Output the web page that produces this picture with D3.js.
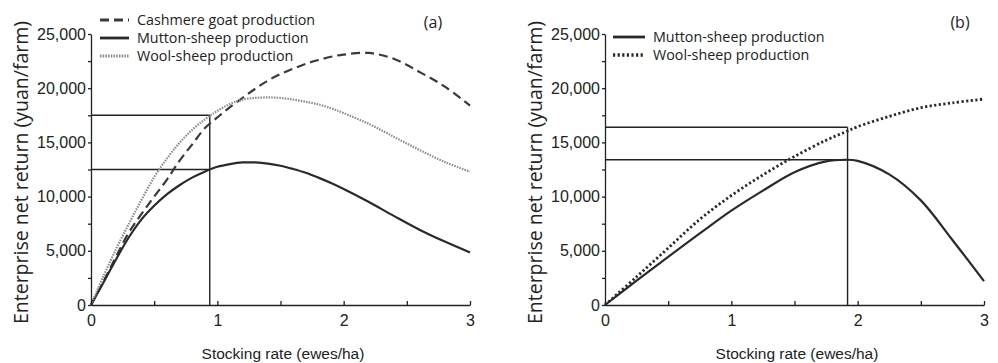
<!DOCTYPE html>
<html>
<head>
<meta charset="utf-8">
<script src="https://cdn.jsdelivr.net/npm/d3@7"></script>
<style>
  body { margin: 0; background: #fff; }
  svg { display: block; }
  .axis text { font-family: "Liberation Sans", Arial, sans-serif; font-size: 16px; fill: #222; }
  .axis path, .axis line { stroke: #222; stroke-width: 1.3; }
  .ytitle { font-family: "Open Sans", sans-serif; font-size: 19.5px; fill: #222; }
  .xtitle { font-family: "Liberation Sans", Arial, sans-serif; font-size: 15.5px; fill: #222; }
  .legend text, .panelLabel { font-family: "Open Sans", sans-serif; fill: #222; }
</style>
</head>
<body>
<div id="chart"></div>
<script>

/*------Data (stocking rate in ewes/ha, return in yuan/farm)------*/

var xA = [0, 0.1, 0.2, 0.3, 0.4, 0.5, 0.6, 0.7, 0.8, 0.9, 1.0, 1.1, 1.2, 1.3, 1.4, 1.5, 1.6, 1.7, 1.8, 1.9, 2.0, 2.2, 2.4, 2.6, 2.8, 3.0];
var cashmereA = [0, 2200, 4500, 6700, 8400, 10000, 11550, 13300, 14800, 16300, 17300, 18250, 19100, 19950, 20700, 21300, 21800, 22250, 22600, 22900, 23100, 23250, 22700, 21500, 20150, 18400];
var muttonA   = [0, 2100, 4250, 6250, 7900, 9150, 10200, 11050, 11750, 12300, 12750, 13000, 13150, 13150, 13050, 12850, 12550, 12200, 11750, 11250, 10700, 9500, 8200, 6950, 5850, 4850];
var woolA     = [0, 2700, 5200, 7500, 9700, 11800, 13500, 14950, 16150, 17100, 17900, 18550, 18950, 19100, 19150, 19100, 18950, 18750, 18500, 18150, 17700, 16700, 15500, 14300, 13200, 12300];

var xB = [0, 0.25, 0.5, 0.75, 1.0, 1.25, 1.5, 1.75, 1.9, 2.0, 2.25, 2.5, 2.75, 3.0];
var muttonB = [0, 2250, 4450, 6600, 8700, 10550, 12250, 13250, 13400, 13300, 12050, 9650, 6000, 2200];
var woolB   = [0, 2600, 5250, 7900, 10100, 12000, 13700, 15200, 15950, 16450, 17400, 18200, 18650, 19000];

// optimal stocking rate and the returns marked with guide lines
var optimumA = {rate: 0.94, returns: [17500, 12500]};
var optimumB = {rate: 1.92, returns: [16400, 13400]};

var legendA = ["Cashmere goat production", "Mutton-sheep production", "Wool-sheep production"];
var legendB = ["Mutton-sheep production", "Wool-sheep production"];

var yTicks = d3.range(0, 25001, 2500);
var xTicks = [0, 0.5, 1, 1.5, 2, 2.5, 3];

/*------Line styles------*/
var styles = {
  cashmere: {stroke: "#3a3a3a", width: 2.2, dash: "9,5"},
  mutton:   {stroke: "#2a2a2a", width: 2.2, dash: null},
  woolA:    {stroke: "#8a8a8a", width: 2.2, dash: "1.5,1.2"},
  woolB:    {stroke: "#2a2a2a", width: 2.8, dash: "2.2,2.4"}
};

var width = 998, height = 363;
var svg = d3.select("#chart").append("svg")
    .attr("width", width)
    .attr("height", height);

var plotTop = 34, plotBottom = 305, plotW = 379;

function drawPanel(left, series, optimum, legend, legendPos, label, labelX) {

  var x = d3.scaleLinear().domain([0, 3]).range([left, left + plotW]);
  var y = d3.scaleLinear().domain([0, 25000]).range([plotBottom, plotTop]);

  var line = d3.line()
      .x(function(d) { return x(d[0]); })
      .y(function(d) { return y(d[1]); })
      .curve(d3.curveCatmullRom);

  // guide lines at the optimum
  optimum.returns.forEach(function(v) {
    svg.append("line")
      .attr("x1", x(0)).attr("x2", x(optimum.rate))
      .attr("y1", y(v)).attr("y2", y(v))
      .attr("stroke", "#222").attr("stroke-width", 1.4);
  });
  svg.append("line")
    .attr("x1", x(optimum.rate)).attr("x2", x(optimum.rate))
    .attr("y1", y(d3.max(optimum.returns))).attr("y2", y(0))
    .attr("stroke", "#222").attr("stroke-width", 1.4);

  // curves
  series.forEach(function(s) {
    var pts = s.x.map(function(v, i) { return [v, s.y[i]]; });
    svg.append("path")
      .datum(pts)
      .attr("d", line)
      .attr("fill", "none")
      .attr("stroke", s.style.stroke)
      .attr("stroke-width", s.style.width)
      .attr("stroke-dasharray", s.style.dash);
  });

  // axes
  svg.append("g")
    .attr("class", "axis")
    .attr("transform", "translate(" + left + ",0)")
    .call(d3.axisLeft(y).tickValues(yTicks).tickSize(3).tickSizeOuter(0).tickPadding(2)
      .tickFormat(function(d) { return d % 5000 === 0 ? d3.format(",")(d) : ""; }));

  svg.append("g")
    .attr("class", "axis")
    .attr("transform", "translate(0," + plotBottom + ")")
    .call(d3.axisBottom(x).tickValues(xTicks).tickSize(-4).tickSizeOuter(0).tickPadding(10)
      .tickFormat(function(d) { return d % 1 === 0 ? d : ""; }));

  // axis titles
  svg.append("text")
    .attr("class", "ytitle")
    .attr("transform", "translate(" + (left - 63) + "," + ((plotTop + plotBottom) / 2 + 3) + ") rotate(-90)")
    .attr("text-anchor", "middle")
    .text("Enterprise net return (yuan/farm)");

  svg.append("text")
    .attr("class", "xtitle")
    .attr("x", left + 192)
    .attr("y", 359)
    .attr("text-anchor", "middle")
    .text("Stocking rate (ewes/ha)");

  // legend
  var lg = svg.append("g").attr("class", "legend");
  legend.forEach(function(name, i) {
    var st = series[i].style;
    var ly = legendPos.y + i * 18;
    lg.append("line")
      .attr("x1", legendPos.x1).attr("x2", legendPos.x2)
      .attr("y1", ly).attr("y2", ly)
      .attr("stroke", st.stroke)
      .attr("stroke-width", st.width + 0.6)
      .attr("stroke-dasharray", st.dash);
    lg.append("text")
      .attr("x", legendPos.x2 + 8)
      .attr("y", ly)
      .attr("dy", "0.35em")
      .style("font-size", "14.3px")
      .text(name);
  });

  svg.append("text")
    .attr("class", "panelLabel")
    .attr("x", labelX)
    .attr("y", 22)
    .attr("dy", "0.35em")
    .attr("text-anchor", "middle")
    .style("font-size", "16px")
    .text(label);
}

drawPanel(91,
  [{x: xA, y: cashmereA, style: styles.cashmere},
   {x: xA, y: muttonA, style: styles.mutton},
   {x: xA, y: woolA, style: styles.woolA}],
  optimumA, legendA, {x1: 100, x2: 129, y: 20}, "(a)", 433);

drawPanel(605,
  [{x: xB, y: muttonB, style: styles.mutton},
   {x: xB, y: woolB, style: styles.woolB}],
  optimumB, legendB, {x1: 613, x2: 645, y: 37}, "(b)", 960);

</script>
</body>
</html>
